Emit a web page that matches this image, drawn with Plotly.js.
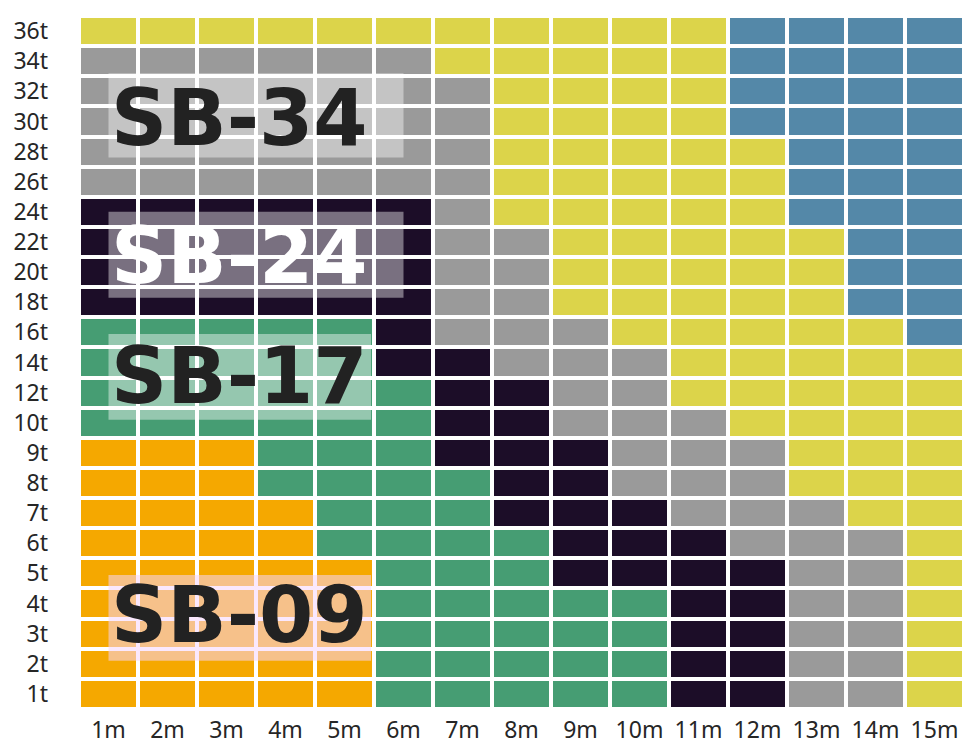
<!DOCTYPE html>
<html><head><meta charset="utf-8">
<script src="https://cdn.plot.ly/plotly-3.0.1.min.js"></script>
<style>html,body{margin:0;padding:0;background:#fff;overflow:hidden}</style>
</head><body><div id="chart" style="width:964px;height:744px"></div>
<script>
// Column (x) and row (y, bottom to top) tick labels
const xLabels = ['1m','2m','3m','4m','5m','6m','7m','8m','9m','10m','11m','12m','13m','14m','15m'];
const yLabels = ['1t','2t','3t','4t','5t','6t','7t','8t','9t','10t','12t','14t','16t','18t','20t','22t','24t','26t','28t','30t','32t','34t','36t'];

// Group codes and their colours
const groupCodes  = ['O','G','D','A','Y','B'];
const groupColors = ['#F5A800','#469D73','#1C0D28','#9A9A9A','#DCD44A','#5488A8'];

// Cell group per row (bottom row 1t first), one character per column 1m..15m
const rowGroups = [
  'OOOOOGGGGGDDAAY', // 1t
  'OOOOOGGGGGDDAAY', // 2t
  'OOOOOGGGGGDDAAY', // 3t
  'OOOOOGGGGGDDAAY', // 4t
  'OOOOOGGGDDDDAAY', // 5t
  'OOOOGGGGDDDAAAY', // 6t
  'OOOOGGGDDDAAAYY', // 7t
  'OOOGGGGDDAAAYYY', // 8t
  'OOOGGGDDDAAAYYY', // 9t
  'GGGGGGDDAAAYYYY', // 10t
  'GGGGGGDDAAYYYYY', // 12t
  'GGGGGDDAAAYYYYY', // 14t
  'GGGGGDAAAYYYYYB', // 16t
  'DDDDDDAAYYYYYBB', // 18t
  'DDDDDDAAYYYYYBB', // 20t
  'DDDDDDAAYYYYYBB', // 22t
  'DDDDDDAYYYYYBBB', // 24t
  'AAAAAAAYYYYYBBB', // 26t
  'AAAAAAAYYYYYBBB', // 28t
  'AAAAAAAYYYYBBBB', // 30t
  'AAAAAAAYYYYBBBB', // 32t
  'AAAAAAYYYYYBBBB', // 34t
  'YYYYYYYYYYYBBBB'  // 36t
];

// Overlay label names
const labelNames = ['SB-34','SB-24','SB-17','SB-09'];

const z = rowGroups.map(r => r.split('').map(c => groupCodes.indexOf(c)));
const n = groupColors.length;
const colorscale = [];
groupColors.forEach((c,i) => { colorscale.push([i/n, c]); colorscale.push([(i+1)/n, c]); });

const xIdx = xLabels.map((_,i)=>i);
const yIdx = yLabels.map((_,i)=>i);

const trace = {
  type: 'heatmap', x: xIdx, y: yIdx, z: z,
  colorscale: colorscale, zmin: -0.5, zmax: n - 0.5, showscale: false,
  xgap: 4, ygap: 4, hoverinfo: 'skip'
};

// label boxes in axis index units, text y, text colour, box fill
const boxDefs = [
  {x0: 0, x1: 5.0,  y0: 17.8, y1: 20.6, ty: 19.1,  color: '#222222', fill: 'rgba(255,255,255,0.42)'},
  {x0: 0, x1: 5.0,  y0: 13.15, y1: 16.0, ty: 14.55, color: '#ffffff', fill: 'rgba(255,255,255,0.41)'},
  {x0: 0, x1: 4.45, y0: 9.1, y1: 11.95, ty: 10.55, color: '#222222', fill: 'rgba(255,255,255,0.43)'},
  {x0: 0, x1: 4.45, y0: 1.1, y1: 3.95, ty: 2.62, color: '#222222', fill: 'rgba(245,214,252,0.55)'}
];
const shapes = boxDefs.map(b => ({
  type: 'rect', xref: 'x', yref: 'y', x0: b.x0, x1: b.x1, y0: b.y0, y1: b.y1,
  fillcolor: b.fill, line: {width: 0}, layer: 'above'
}));
const annotations = boxDefs.map((b,i) => ({
  xref: 'x', yref: 'y', x: b.x0, y: b.ty, xanchor: 'left', yanchor: 'middle',
  text: labelNames[i], showarrow: false,
  font: {family: 'DejaVu Sans', size: 78, color: b.color, weight: 700}
}));

const tickFont = {family: 'Noto Sans, sans-serif', size: 23, color: '#262626'};
const layout = {
  width: 964, height: 744,
  margin: {l: 79, r: 0, t: 16, b: 35, pad: 0},
  paper_bgcolor: '#ffffff', plot_bgcolor: '#ffffff',
  xaxis: {range: [-0.5, 14.5], tickvals: xIdx, ticktext: xLabels, showgrid: false, zeroline: false,
          showline: false, ticks: '', tickfont: tickFont, ticklabelstandoff: 5, fixedrange: true},
  yaxis: {range: [-0.5, 22.5], tickvals: yIdx, ticktext: yLabels, showgrid: false, zeroline: false,
          showline: false, ticks: '', tickfont: tickFont, ticklabelstandoff: 30, fixedrange: true},
  shapes: shapes, annotations: annotations, showlegend: false
};
Plotly.newPlot('chart', [trace], layout, {displayModeBar: false, staticPlot: true});
</script></body></html>
